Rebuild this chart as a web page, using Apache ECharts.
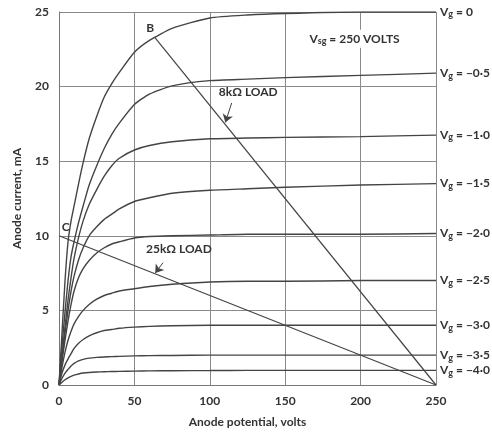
<!DOCTYPE html>
<html><head><meta charset="utf-8">
<script src="https://cdn.jsdelivr.net/npm/echarts@6/dist/echarts.min.js"></script>
<style>html,body{margin:0;padding:0;background:#fff}#c{width:492px;height:433px}</style>
</head><body><div id="c"></div><script>
// Anode potential sample points (volts)
const anodeVolts = [0, 2, 4, 6, 8, 10, 13, 16, 20, 25, 30, 35, 40, 50, 60, 75, 100, 125, 150, 200, 250];
// Anode current (mA) for each grid voltage
const ia_vg0    = [0, 3.5, 7.0, 9.6, 11.0, 12.0, 13.5, 14.9, 16.5, 18.0, 19.3, 20.2, 20.95, 22.3, 23.1, 23.9, 24.6, 24.8, 24.9, 25.0, 25.0];
const ia_vg0_5  = [0, 2.6, 4.9, 7.0, 8.6, 9.6, 10.9, 12.0, 13.4, 14.7, 15.85, 16.8, 17.55, 18.8, 19.5, 20.05, 20.4, 20.5, 20.6, 20.75, 20.9];
const ia_vg1_0  = [0, 2.0, 3.9, 5.7, 7.2, 8.5, 9.9, 11.0, 12.1, 13.1, 14.0, 14.7, 15.2, 15.75, 16.05, 16.3, 16.5, 16.55, 16.6, 16.65, 16.75];
const ia_vg1_5  = [0, 1.8, 3.5, 5.0, 6.3, 7.3, 8.4, 9.2, 10.0, 10.6, 11.1, 11.45, 11.8, 12.3, 12.55, 12.85, 13.05, 13.15, 13.25, 13.4, 13.5];
const ia_vg2_0  = [0, 1.6, 3.0, 4.3, 5.4, 6.3, 7.2, 7.8, 8.35, 8.85, 9.2, 9.45, 9.6, 9.85, 9.95, 10.0, 10.05, 10.1, 10.1, 10.1, 10.15];
const ia_vg2_5  = [0, 1.2, 2.2, 3.0, 3.6, 4.1, 4.6, 5.0, 5.4, 5.75, 6.0, 6.15, 6.3, 6.45, 6.6, 6.75, 6.9, 6.95, 6.95, 7.0, 7.0];
const ia_vg3_0  = [0, 0.8, 1.35, 1.75, 2.1, 2.45, 2.8, 3.05, 3.3, 3.5, 3.65, 3.72, 3.8, 3.88, 3.93, 3.97, 4.0, 4.0, 4.0, 4.0, 4.0];
const ia_vg3_5  = [0, 0.45, 0.8, 1.05, 1.28, 1.45, 1.62, 1.72, 1.8, 1.85, 1.88, 1.9, 1.92, 1.95, 1.97, 1.98, 2.0, 2.0, 2.0, 2.0, 2.0];
const ia_vg4_0  = [0, 0.18, 0.35, 0.48, 0.58, 0.66, 0.74, 0.8, 0.84, 0.87, 0.89, 0.9, 0.91, 0.93, 0.95, 0.96, 0.97, 0.98, 0.98, 0.98, 0.98];
const curveLabels = ['0', '−0·5', '−1·0', '−1·5', '−2·0', '−2·5', '−3·0', '−3·5', '−4·0'];
// Load lines
const load8kVolts = [63.5, 250];
const load8kCurrent = [23.3, 0];
const load25kVolts = [0, 250];
const load25kCurrent = [10, 0];
// Axis ticks
const xTicks = [0, 50, 100, 150, 200, 250];
const yTicks = [0, 5, 10, 15, 20, 25];

const curves = [ia_vg0, ia_vg0_5, ia_vg1_0, ia_vg1_5, ia_vg2_0, ia_vg2_5, ia_vg3_0, ia_vg3_5, ia_vg4_0];
const FONT = 'Lato';
const INK = '#333';
const LINE = '#444';

const chart = echarts.init(document.getElementById('c'), null, {renderer: 'canvas'});

const series = curves.map((arr, k) => ({
  type: 'line',
  data: anodeVolts.map((v, i) => [v, arr[i]]),
  smooth: 0.2,
  showSymbol: false,
  lineStyle: {color: LINE, width: 1.4},
  endLabel: {
    show: true,
    distance: 4,
    formatter: '{v|V}{s|g}{v| = ' + curveLabels[k] + '}',
    rich: {
      v: {fontFamily: FONT, fontSize: 12, fontWeight: 'bold', color: INK},
      s: {fontFamily: FONT, fontSize: 9, fontWeight: 'bold', color: INK, padding: [5, 0, 0, 0]}
    }
  },
  silent: true
}));

const lblStyle = {fontFamily: FONT, fontSize: 12, fontWeight: 'bold', color: INK};

series.push({
  type: 'line',
  data: load8kVolts.map((v, i) => [v, load8kCurrent[i]]),
  showSymbol: false,
  lineStyle: {color: LINE, width: 1.2},
  markPoint: {
    symbol: 'circle', symbolSize: 0,
    label: Object.assign({show: true}, lblStyle),
    data: [
      {coord: [60.5, 23.9], label: {formatter: 'B'}},
      {coord: [252, -0.9], label: {formatter: 'A'}}
    ]
  },
  markLine: {
    silent: true,
    symbolSize: 8,
    lineStyle: {color: LINE, width: 1, type: 'solid'},
    label: {show: false},
    data: [
      [{coord: [114.5, 18.9], symbol: 'none'}, {coord: [110.3, 17.6], symbol: 'arrow'}],
      [{coord: [69, 8.2], symbol: 'none'}, {coord: [63.8, 7.5], symbol: 'arrow'}]
    ]
  }
});
series.push({
  type: 'line',
  data: load25kVolts.map((v, i) => [v, load25kCurrent[i]]),
  showSymbol: false,
  lineStyle: {color: LINE, width: 1.2},
  markPoint: {
    symbol: 'circle', symbolSize: 0,
    label: Object.assign({show: true}, lblStyle),
    data: [
      {coord: [4.5, 10.6], label: {formatter: 'C'}},
      {coord: [125.5, 19.6], label: {formatter: '8kΩ LOAD', align: 'center'}},
      {coord: [79.5, 9.1], label: {formatter: '25kΩ LOAD', align: 'center'}},
      {coord: [196, 23.2], label: {
        formatter: '{v|V}{s|sg}{v| = 250 VOLTS}',
        backgroundColor: '#fff', padding: [2, 3],
        rich: {
          v: {fontFamily: FONT, fontSize: 12, fontWeight: 'bold', color: INK},
          s: {fontFamily: FONT, fontSize: 9, fontWeight: 'bold', color: INK, padding: [5, 0, 0, 0]}
        }
      }}
    ]
  }
});

chart.setOption({
  animation: false,
  backgroundColor: '#fff',
  grid: {left: 59, right: 56, top: 12, bottom: 44, containLabel: false},
  xAxis: {
    type: 'value', min: xTicks[0], max: xTicks[xTicks.length - 1], interval: xTicks[1] - xTicks[0],
    name: 'Anode potential, volts', nameLocation: 'middle', nameGap: 31,
    nameTextStyle: {fontFamily: FONT, fontSize: 12, fontWeight: 'bold', color: INK},
    axisLine: {show: true, lineStyle: {color: '#777', width: 1}},
    axisTick: {show: false},
    axisLabel: {fontFamily: FONT, fontSize: 12, fontWeight: 'bold', color: INK, margin: 10},
    splitLine: {show: true, lineStyle: {color: '#8a8a8a', width: 1}}
  },
  yAxis: {
    type: 'value', min: yTicks[0], max: yTicks[yTicks.length - 1], interval: yTicks[1] - yTicks[0],
    name: 'Anode current, mA', nameLocation: 'middle', nameGap: 36,
    nameTextStyle: {fontFamily: FONT, fontSize: 12, fontWeight: 'bold', color: INK},
    axisLine: {show: true, lineStyle: {color: '#777', width: 1}},
    axisTick: {show: false},
    axisLabel: {fontFamily: FONT, fontSize: 12, fontWeight: 'bold', color: INK, margin: 10},
    splitLine: {show: true, lineStyle: {color: '#8a8a8a', width: 1}}
  },
  series: series
});
</script></body></html>
